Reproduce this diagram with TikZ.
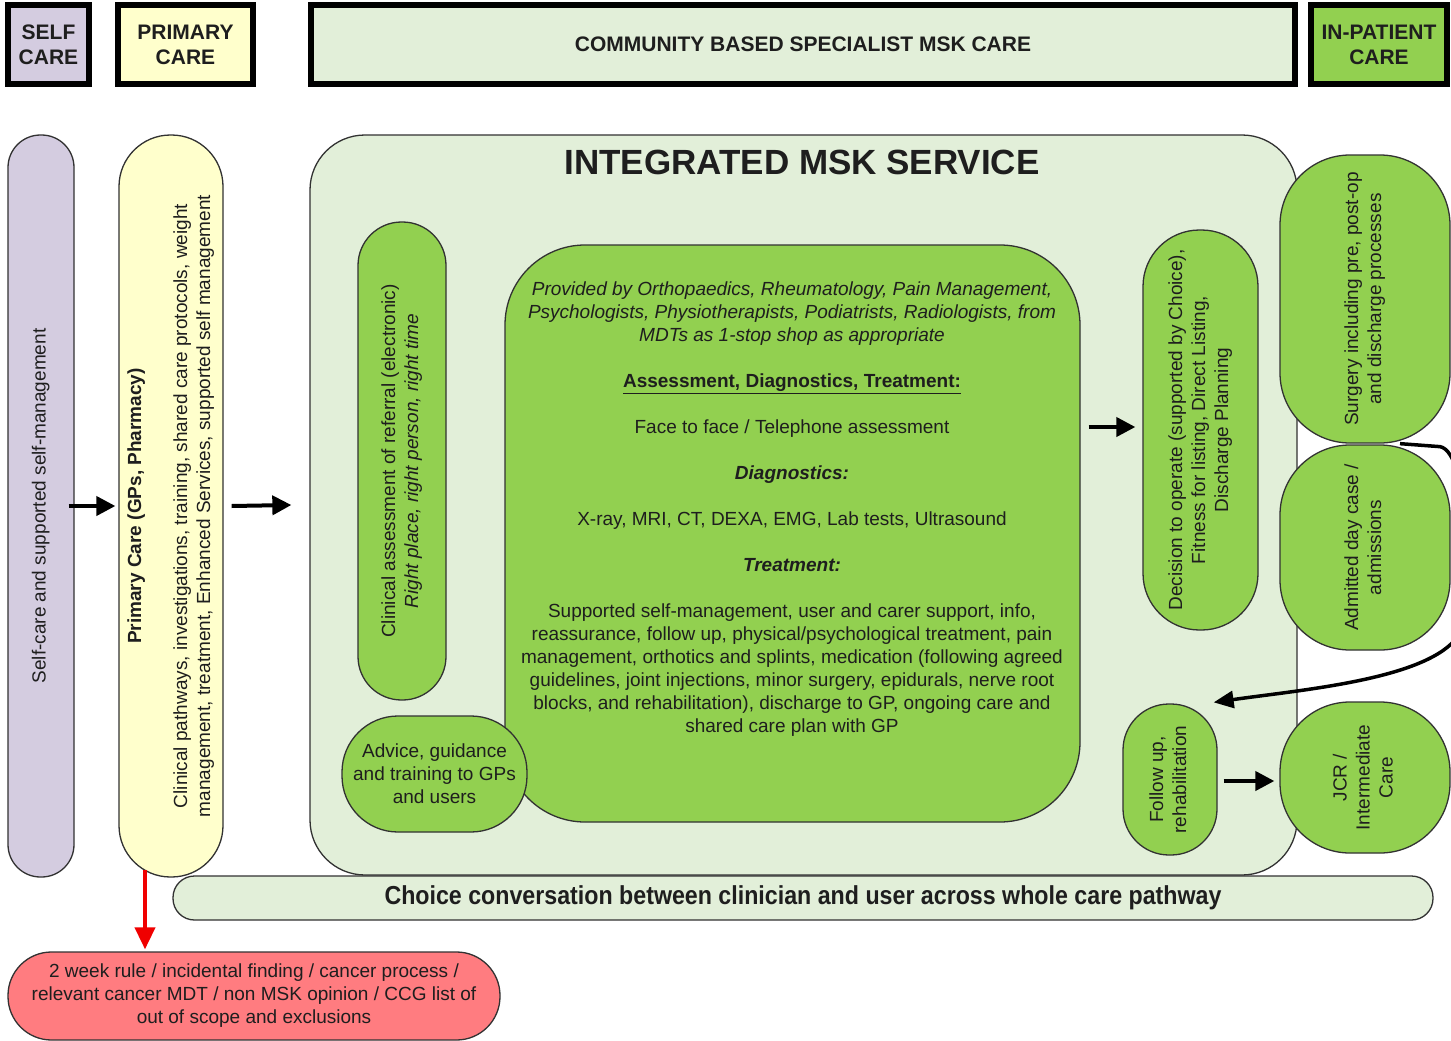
\documentclass[tikz,border=0pt]{standalone}
\usepackage{fontspec}
\setmainfont{Liberation Sans}
\usetikzlibrary{arrows.meta,calc}
\definecolor{lav}{RGB}{212,204,224}
\definecolor{lyel}{RGB}{255,255,204}
\definecolor{lgrn}{RGB}{226,239,217}
\definecolor{grn}{RGB}{146,208,80}
\definecolor{salmon}{RGB}{255,124,128}
\definecolor{txt}{RGB}{30,30,30}
\definecolor{edge}{RGB}{50,50,50}
\definecolor{redarrow}{RGB}{240,0,0}
\newcommand{\vtx}[1]{\rotatebox{90}{\begin{tabular}{@{}c@{}}#1\end{tabular}}}
\begin{document}
\begin{tikzpicture}[x=1pt,y=-1pt,
  hdr/.style={draw=black, line width=6pt, inner sep=0pt, font=\fontsize{21}{25}\selectfont\bfseries, align=center, text=txt},
  box/.style={draw=edge, line width=1.3pt, inner sep=0pt, font=\fontsize{19}{23}\selectfont, align=center, text=txt},
  arr/.style={line width=4pt, -{Triangle[length=19pt,width=19pt]}},
 ]
\useasboundingbox[fill=white] (0,0) rectangle (1451,1041);
% headers
\node[hdr, fill=lav, minimum width=81, minimum height=79] (hself) at (48.5,44.5) {SELF\\CARE};
\node[hdr, fill=lyel, minimum width=135, minimum height=79] (hprim) at (185.5,44.5) {PRIMARY\\CARE};
\node[hdr, fill=lgrn, minimum width=984, minimum height=79] (hcomm) at (803,44.5) {COMMUNITY BASED SPECIALIST MSK CARE};
\node[hdr, fill=grn, minimum width=136, minimum height=79] (hin) at (1379,44.5) {IN-PATIENT\\CARE};
% big service box
\node[box, fill=lgrn, minimum width=987, minimum height=740, rounded corners=55] (ims) at (803.5,505) {};
\node[font=\fontsize{35}{40}\selectfont\bfseries, text=txt] (title) at (802,162) {INTEGRATED MSK SERVICE};
% left columns
\node[box, fill=lav, minimum width=66, minimum height=742, rounded corners=32.5] (self) at (41,506)
  {\vtx{Self-care and supported self-management}};
\node[box, fill=lyel, minimum width=104, minimum height=742, rounded corners=51.5] (prim) at (171,506)
  {\vtx{\textbf{Primary Care (GPs, Pharmacy)}\\ \\ Clinical pathways, investigations, training, shared care protocols, weight\\ management, treatment, Enhanced Services, supported self management}};
% inside service
\node[box, fill=grn, minimum width=88, minimum height=478, rounded corners=43.5] (clin) at (402,461)
  {\vtx{Clinical assessment of referral (electronic)\\ \textit{Right place, right person, right time}}};
\node[box, fill=grn, minimum width=575, minimum height=577, rounded corners=80] (central) at (792.5,533.5) {};
\node[font=\fontsize{19}{23}\selectfont, text=txt, align=center] (ctext) at (792,509)
  {\textit{Provided by Orthopaedics, Rheumatology, Pain Management,}\\
   \textit{Psychologists, Physiotherapists, Podiatrists, Radiologists, from}\\
   \textit{MDTs as 1-stop shop as appropriate}\\[23pt]
   \underline{\textbf{Assessment, Diagnostics, Treatment:}}\\[23pt]
   Face to face / Telephone assessment\\[23pt]
   \textbf{\textit{Diagnostics:}}\\[23pt]
   X-ray, MRI, CT, DEXA, EMG, Lab tests, Ultrasound\\[23pt]
   \textbf{\textit{Treatment:}}\\[23pt]
   Supported self-management, user and carer support, info,\\
   reassurance, follow up, physical/psychological treatment, pain\\
   management, orthotics and splints, medication (following agreed\\
   guidelines, joint injections, minor surgery, epidurals, nerve root\\
   blocks, and rehabilitation), discharge to GP, ongoing care and\\
   shared care plan with GP};
\node[box, fill=grn, minimum width=185, minimum height=116, rounded corners=56] (advice) at (434.5,774)
  {Advice, guidance\\and training to GPs\\and users};
\node[box, fill=grn, minimum width=115, minimum height=400, rounded corners=56.5] (decision) at (1200.5,430)
  {\vtx{Decision to operate (supported by Choice),\\ Fitness for listing, Direct Listing,\\ Discharge Planning}};
\node[box, fill=grn, minimum width=94, minimum height=151, rounded corners=46] (follow) at (1170,779.5)
  {\vtx{Follow up,\\ rehabilitation}};
% in-patient column
\node[box, fill=grn, minimum width=170, minimum height=288, rounded corners=70] (surg) at (1365,299)
  {\vtx{Surgery including pre, post-op\\ and discharge processes}};
\node[box, fill=grn, minimum width=170, minimum height=205, rounded corners=70] (adm) at (1365,547.5)
  {\vtx{Admitted day case /\\ admissions}};
\node[box, fill=grn, minimum width=170, minimum height=151, rounded corners=70] (jcr) at (1365,777.5)
  {\vtx{JCR /\\ Intermediate\\ Care}};
% bottom
\node[box, fill=lgrn, minimum width=1260, minimum height=44, rounded corners=21.5] (choice) at (803,898)
  {\resizebox{837pt}{\height}{\fontsize{26}{30}\selectfont\bfseries Choice conversation between clinician and user across whole care pathway}};
\node[box, fill=salmon, minimum width=492, minimum height=88, rounded corners=43.5] (red) at (254,996)
  {2 week rule / incidental finding / cancer process /\\ relevant cancer MDT / non MSK opinion / CCG list of\\ out of scope and exclusions};
% connectors
\draw[arr] ([xshift=-6pt]self.east) -- ([xshift=-3pt]prim.west);
\draw[arr] ([xshift=8pt]prim.east) -- ([xshift=-18pt]ims.west);
\draw[arr] ($(central.east |- decision.west)+(8,-3)$) -- ($(decision.west)+(-7,-3)$);
\draw[arr] ($(follow.east)+(6,1.5)$) -- ($(jcr.west |- follow.east)+(-5,1.5)$);
\draw[line width=4pt, redarrow, -{Triangle[length=22pt,width=20pt]}] ($(prim.south)+(-26,-8)$) -- ($(prim.south |- red.north)+(-26,-2)$);
\coordinate (cstart) at ($(surg.south)+(35,0)$);
\draw[line width=3.5pt, -{Triangle[length=20pt,width=17pt]}] (cstart) -- ++(40,3)
  .. controls (1470,452) and (1475,600) .. (1455,640)
  .. controls (1420,680) and (1300,690) .. ($(follow.north east)+(-4,-1)$);
\end{tikzpicture}
\end{document}
